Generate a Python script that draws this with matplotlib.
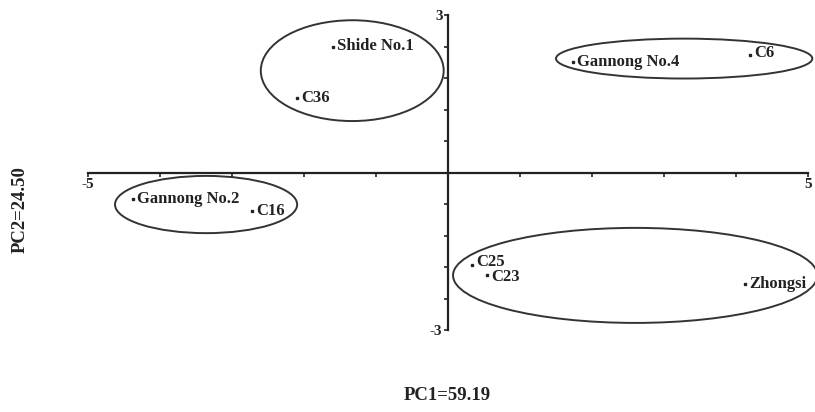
import matplotlib
matplotlib.use("Agg")
import matplotlib.pyplot as plt
from matplotlib.patches import Ellipse

# PCA scores (PC1, PC2)
cultivars = ["Shide No.1", "C36", "Gannong No.2", "C16", "Gannong No.4",
             "C6", "C25", "C23", "Zhongsi"]
pc1 = [-1.60, -2.10, -4.38, -2.72, 1.74, 4.20, 0.33, 0.54, 4.13]
pc2 = [2.40, 1.41, -0.50, -0.74, 2.11, 2.23, -1.77, -1.96, -2.13]

# group ellipses: centre x, centre y, width, height (data units)
ell_cx = [-1.33, 3.28, -3.36, 2.60]
ell_cy = [1.94, 2.17, -0.61, -1.96]
ell_w = [2.54, 3.56, 2.53, 5.06]
ell_h = [1.92, 0.76, 1.09, 1.81]

x_ticks = [-5, -4, -3, -2, -1, 0, 1, 2, 3, 4, 5]
y_ticks = [-3, -2.4, -1.8, -1.2, -0.6, 0, 0.6, 1.2, 1.8, 2.4, 3]

# small vertical nudges (points) so close labels don't collide
label_dy = {"C25": 2.5, "C23": -1.5, "C6": 1.5}

ink = "#222222"
plt.rcParams["font.family"] = ["Liberation Serif", "DejaVu Serif"]
plt.rcParams["font.weight"] = "bold"

fig = plt.figure(figsize=(8.15, 4.12), dpi=100)
ax = fig.add_axes([88 / 815, 82 / 412, 720 / 815, 315 / 412])
ax.set_xlim(-5, 5)
ax.set_ylim(-3, 3)

for s in ["top", "right"]:
    ax.spines[s].set_visible(False)
for s in ["left", "bottom"]:
    ax.spines[s].set_position("zero")
    ax.spines[s].set_linewidth(1.6)
    ax.spines[s].set_color(ink)

ax.set_xticks(x_ticks)
ax.set_xticklabels(["-5" if t == -5 else "5" if t == 5 else "" for t in x_ticks])
ax.set_yticks(y_ticks)
ax.set_yticklabels(["3" if t == 3 else "-3" if t == -3 else "" for t in y_ticks])
ax.tick_params(axis="both", direction="out", length=3, width=1.2, colors=ink,
               labelsize=11, pad=1)
for lab in ax.get_xticklabels() + ax.get_yticklabels():
    lab.set_fontweight("bold")

for cx, cy, w, h in zip(ell_cx, ell_cy, ell_w, ell_h):
    e = Ellipse((cx, cy), w, h, fill=False, edgecolor="#333333", lw=1.4,
                clip_on=False)
    ax.add_patch(e)

ax.plot(pc1, pc2, "s", ms=2, color=ink, clip_on=False)
for name, x, y in zip(cultivars, pc1, pc2):
    ax.annotate(name, (x, y), xytext=(3, label_dy.get(name, 0)),
                textcoords="offset points", va="center", ha="left",
                fontsize=12, fontweight="bold", color=ink,
                annotation_clip=False)

fig.text(447 / 815, 1 - 395 / 412, "PC1=59.19", ha="center", va="center",
         fontsize=13.5, fontweight="bold", color=ink)
fig.text(20 / 815, 1 - 210 / 412, "PC2=24.50", ha="center", va="center",
         rotation=90, fontsize=13.5, fontweight="bold", color=ink)

fig.savefig("out.png", dpi=100, facecolor="white")
